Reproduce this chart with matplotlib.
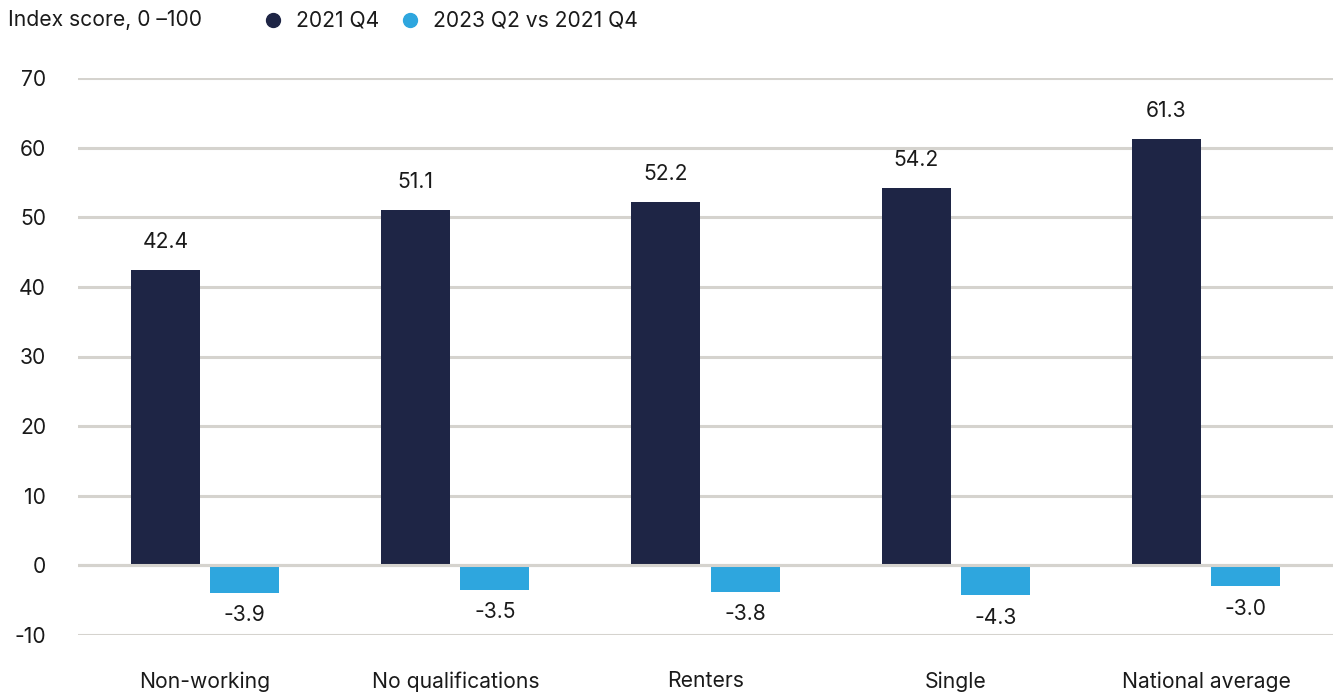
import matplotlib
matplotlib.use("Agg")
import matplotlib.pyplot as plt
from matplotlib.lines import Line2D
import numpy as np

categories = ["Non-working", "No qualifications", "Renters", "Single", "National average"]
score_2021q4 = [42.4, 51.1, 52.2, 54.2, 61.3]
change_2023q2 = [-3.9, -3.5, -3.8, -4.3, -3.0]
yticks = [-10, 0, 10, 20, 30, 40, 50, 60, 70]

dark = "#1e2545"
light = "#2ea6de"
grid_col = "#d5d3ce"
text_col = "#1a1a1a"

plt.rcParams["font.family"] = ["Inter", "DejaVu Sans"]
plt.rcParams["font.size"] = 15.2

fig = plt.figure(figsize=(13.33, 6.93), dpi=100)
ax = fig.add_axes([78 / 1333, 1 - 635 / 693, 1 - 78 / 1333, (635 - 78) / 693])

x = np.arange(len(categories))
w = 0.276
off = 0.158
b1 = ax.bar(x - off, score_2021q4, w, color=dark, zorder=3)
b2 = ax.bar(x + off, change_2023q2, w, color=light, zorder=3)

for rect, v in zip(b1, score_2021q4):
    ax.annotate(f"{v:.1f}", (rect.get_x() + rect.get_width() / 2, v),
                xytext=(0, 13), textcoords="offset points",
                ha="center", va="bottom", color=text_col)
for rect, v in zip(b2, change_2023q2):
    ax.annotate(f"{v:.1f}", (rect.get_x() + rect.get_width() / 2, v),
                xytext=(0, -9), textcoords="offset points",
                ha="center", va="top", color=text_col)

ax.set_ylim(-10, 70)
ax.set_xlim(-0.5075, 4.5075)
ax.set_yticks(yticks)
ax.set_yticklabels([str(t) for t in yticks])
ax.set_xticks(x)
ax.set_xticklabels(categories)
ax.tick_params(axis="y", length=0, pad=23, colors=text_col)
ax.tick_params(axis="x", length=0, pad=26, colors=text_col)
ax.grid(axis="y", color=grid_col, lw=2.2, zorder=0)
ax.axhline(0, color=grid_col, lw=2.2, zorder=4)
for s in ax.spines.values():
    s.set_visible(False)
for lbl in ax.get_yticklabels() + ax.get_xticklabels():
    lbl.set_clip_on(False)

# header: unit note and legend
fig.text(8 / 1333, 1 - 20 / 693, "Index score, 0 \u2013100", ha="left", va="center", color=text_col)
for xm, col, lab in [(273, dark, "2021 Q4"), (410, light, "2023 Q2 vs 2021 Q4")]:
    fig.add_artist(Line2D([xm / 1333], [1 - 20 / 693], marker="o", markersize=10,
                          color=col, transform=fig.transFigure))
    fig.text((xm + 23) / 1333, 1 - 20 / 693, lab, ha="left", va="center", color=text_col)

fig.savefig("out.png", dpi=100)
